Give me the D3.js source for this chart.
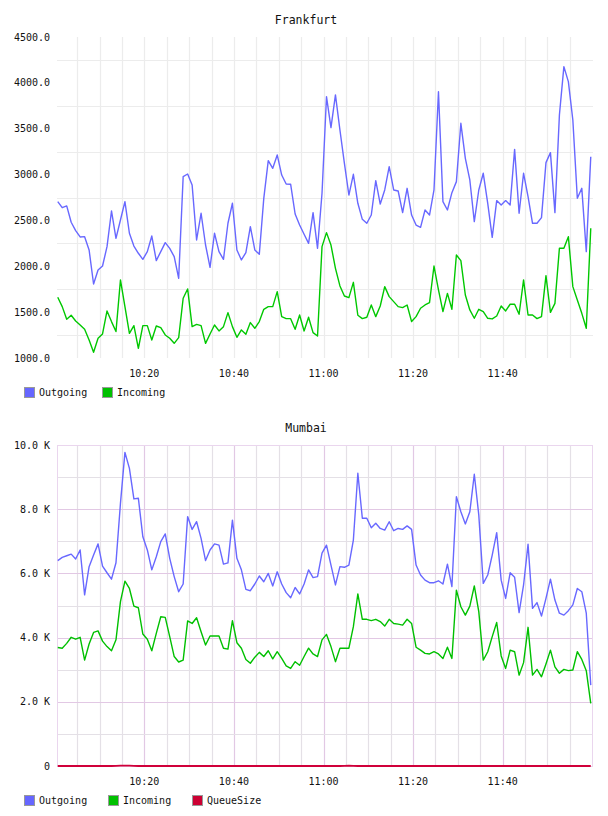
<!DOCTYPE html>
<html>
<head>
<meta charset="utf-8">
<title>Frankfurt / Mumbai</title>
<script src="https://cdn.jsdelivr.net/npm/d3@7"></script>
<style>
    body { margin: 0; background: #fff; }
    text { font-family: "DejaVu Sans Mono", monospace; font-size: 10px; fill: #111; }
    .title { font-size: 11.5px; }
</style>
</head>
<body>
<script>
// one sample per minute, starting 10:00:40
var sampleCount = 120;
var firstSample = new Date(2020, 0, 1, 10, 0, 40);
var timeDomain = [new Date(2020, 0, 1, 10, 0, 30), new Date(2020, 0, 1, 12, 0, 10)];
var timeTicks = ["10:20", "10:40", "11:00", "11:20", "11:40"];

var frankfurtOutgoing = [
    2705, 2639, 2658, 2480, 2389, 2320, 2323, 2178, 1807, 1960, 2003, 2214, 2603, 2305, 2505, 2705, 2360, 2221, 2142, 2076,
    2160, 2330, 2062, 2160, 2258, 2196, 2105, 1869, 2977, 3006, 2887, 2287, 2578, 2232, 1989, 2360, 2160, 2076, 2469, 2687,
    2178, 2069, 2149, 2432, 2178, 2131, 2741, 3152, 3068, 3214, 2995, 2897, 2894, 2570, 2450, 2349, 2250, 2585, 2196, 2796,
    3849, 3512, 3868, 3486, 3123, 2777, 3003, 2687, 2512, 2469, 2559, 2934, 2679, 2832, 3086, 2832, 2821, 2585, 2850, 2559,
    2450, 2425, 2614, 2559, 2832, 3904, 2705, 2614, 2803, 2923, 3559, 3177, 2941, 2487, 2832, 3014, 2687, 2316, 2716, 2668,
    2716, 2668, 3275, 2578, 3014, 2759, 2469, 2469, 2530, 3130, 3239, 2585, 3650, 4177, 4013, 3595, 2741, 2850, 2160, 3195
];
var frankfurtIncoming = [
    1662, 1560, 1422, 1466, 1404, 1360, 1313, 1197, 1062, 1215, 1262, 1513, 1397, 1288, 1851, 1560, 1269, 1353, 1106, 1353,
    1353, 1197, 1349, 1331, 1251, 1215, 1160, 1222, 1651, 1753, 1342, 1367, 1353, 1160, 1262, 1360, 1295, 1342, 1495, 1342,
    1226, 1306, 1259, 1386, 1324, 1397, 1531, 1560, 1560, 1724, 1451, 1429, 1429, 1313, 1469, 1295, 1444, 1277, 1240, 2214,
    2367, 2232, 1978, 1786, 1676, 1658, 1825, 1466, 1429, 1444, 1578, 1451, 1567, 1778, 1669, 1615, 1560, 1549, 1578, 1397,
    1451, 1542, 1578, 1604, 2003, 1742, 1506, 1705, 1531, 2123, 2062, 1687, 1524, 1433, 1531, 1506, 1433, 1426, 1458, 1567,
    1513, 1586, 1586, 1477, 1851, 1469, 1469, 1429, 1451, 1898, 1498, 1596, 2196, 2196, 2323, 1778, 1633, 1487, 1324, 2414
];

var mumbaiOutgoing = [
    6400, 6500, 6550, 6600, 6450, 6730, 5330, 6210, 6570, 6920, 6230, 6020, 5820, 6330, 8180, 9770, 9270, 8320, 8340, 7140,
    6730, 6110, 6520, 6990, 7230, 6470, 5900, 5430, 5670, 7770, 7370, 7610, 7090, 6400, 6730, 6920, 6880, 6290, 6330, 7660,
    6470, 6110, 5500, 5460, 5670, 5920, 5740, 6000, 5610, 6050, 5670, 5400, 5240, 5560, 5360, 5670, 6110, 5870, 5900, 6630,
    6880, 6260, 5640, 6210, 6190, 6260, 7040, 9120, 7720, 7720, 7420, 7560, 7400, 7350, 7610, 7330, 7400, 7370, 7480, 7370,
    6260, 5950, 5790, 5710, 5710, 5770, 5670, 6290, 5590, 8390, 7920, 7540, 7920, 9090, 7820, 5690, 5950, 6570, 7270, 5790,
    5220, 6020, 5880, 4780, 5640, 6910, 4910, 5090, 4670, 5220, 5820, 5170, 4760, 4700, 4840, 5020, 5530, 5430, 4760, 2520
];
var mumbaiIncoming = [
    3690, 3670, 3820, 4010, 3950, 4010, 3300, 3800, 4160, 4210, 3890, 3720, 3590, 3930, 5120, 5760, 5530, 4980, 4930, 4110,
    3950, 3590, 4130, 4650, 4630, 4030, 3410, 3240, 3300, 4520, 4440, 4620, 4180, 3770, 4050, 4050, 4050, 3670, 3640, 4530,
    3840, 3670, 3320, 3200, 3390, 3540, 3410, 3590, 3340, 3560, 3350, 3120, 3040, 3250, 3140, 3410, 3670, 3490, 3410, 3930,
    4100, 3720, 3250, 3670, 3670, 3670, 4340, 5360, 4570, 4570, 4530, 4570, 4500, 4360, 4570, 4440, 4420, 4390, 4570, 4440,
    3700, 3610, 3510, 3490, 3560, 3490, 3350, 3700, 3350, 5480, 4960, 4700, 4980, 5610, 4810, 3300, 3560, 4030, 4470, 3430,
    3040, 3610, 3560, 2830, 3220, 4320, 2830, 3010, 2780, 3180, 3610, 3090, 2890, 3010, 2970, 2990, 3560, 3320, 2970, 1950
];
var mumbaiQueue = [
    0, 0, 0, 0, 0, 0, 0, 0, 0, 0, 0, 0, 0, 5, 10, 12, 10, 5, 0, 0,
    0, 0, 0, 0, 0, 0, 0, 0, 0, 0, 0, 0, 0, 0, 0, 0, 0, 0, 0, 0,
    0, 0, 0, 0, 0, 0, 0, 0, 0, 0, 0, 0, 0, 0, 0, 0, 0, 0, 0, 0,
    0, 0, 0, 0, 5, 8, 5, 0, 0, 0, 0, 0, 0, 0, 0, 0, 0, 0, 0, 0,
    0, 0, 0, 0, 0, 0, 0, 0, 0, 0, 0, 0, 0, 0, 0, 0, 0, 0, 0, 0,
    0, 0, 0, 0, 0, 0, 0, 0, 0, 0, 0, 0, 0, 0, 0, 0, 0, 0, 0, 0
];

var times = d3.range(sampleCount).map(function (i) {
    return d3.timeMinute.offset(firstSample, i);
});
var parseTick = d3.timeParse("%H:%M");
var tickTimes = timeTicks.map(function (s) {
    var t = parseTick(s);
    return new Date(2020, 0, 1, t.getHours(), t.getMinutes());
});

var svg = d3.select("body").append("svg")
        .attr("width", 608)
        .attr("height", 816);

function drawChart(opt) {
    var x = d3.scaleTime().domain(timeDomain).range([57, 593]);
    var y = d3.scaleLinear().domain(opt.yDomain).range([opt.bottom, opt.top]);
    var g = svg.append("g");

    g.append("text")
            .attr("class", "title")
            .attr("x", 306).attr("y", opt.top - 13)
            .attr("text-anchor", "middle")
            .text(opt.title);

    // grid
    var minorTimes = d3.timeMinute.every(5).range(timeDomain[0], timeDomain[1])
            .filter(function (t) { return x(t) < 590; });
    g.selectAll(".vgrid").data(minorTimes).enter().append("line")
            .attr("x1", function (d) { return Math.round(x(d)) + 0.5; })
            .attr("x2", function (d) { return Math.round(x(d)) + 0.5; })
            .attr("y1", opt.top).attr("y2", opt.bottom)
            .attr("stroke", function (d) {
                return opt.majorColor && d.getMinutes() % 20 === 0 ? opt.majorColor : opt.gridColor;
            })
            .attr("stroke-width", 1.2);
    g.selectAll(".hgrid").data(opt.gridValues).enter().append("line")
            .attr("x1", 57).attr("x2", 593)
            .attr("y1", function (d) { return Math.round(y(d)) + 0.5; })
            .attr("y2", function (d) { return Math.round(y(d)) + 0.5; })
            .attr("stroke", function (d) {
                return opt.majorColor && d % 2000 === 0 ? opt.majorColor : opt.gridColor;
            })
            .attr("stroke-width", 1.2);

    if (opt.border) {
        g.append("rect")
                .attr("x", 57.5).attr("y", opt.top + 0.5)
                .attr("width", 535).attr("height", opt.bottom - opt.top)
                .attr("fill", "none")
                .attr("stroke", opt.border);
    }

    // axes labels
    g.selectAll(".ylab").data(opt.yTicks).enter().append("text")
            .attr("x", 50).attr("y", function (d) { return y(d) + 3.5; })
            .attr("text-anchor", "end")
            .text(opt.yFormat);
    g.selectAll(".xlab").data(tickTimes).enter().append("text")
            .attr("x", function (d) { return x(d); })
            .attr("y", opt.bottom + 19)
            .attr("text-anchor", "middle")
            .text(d3.timeFormat("%H:%M"));

    var line = d3.line()
            .x(function (d, i) { return x(times[i]); })
            .y(function (d) { return y(d); });

    opt.series.forEach(function (s) {
        g.append("path")
                .datum(s.values)
                .attr("d", line)
                .attr("fill", "none")
                .attr("stroke", s.color)
                .attr("stroke-width", s.width || 1.4)
                .attr("stroke-linejoin", "round");
    });

    // legend
    var lx = 24;
    opt.series.forEach(function (s) {
        g.append("rect")
                .attr("x", lx + 0.5).attr("y", opt.bottom + 29.5)
                .attr("width", 10).attr("height", 10)
                .attr("fill", s.swatch)
                .attr("stroke", "#999");
        g.append("text")
                .attr("x", lx + 15).attr("y", opt.bottom + 38)
                .text(s.name);
        lx += s.step;
    });
}

drawChart({
    title: "Frankfurt",
    top: 37, bottom: 358,
    yDomain: [1000, 4500],
    yTicks: [1000, 1500, 2000, 2500, 3000, 3500, 4000, 4500],
    gridValues: [1250, 1750, 2250, 2750, 3250, 3750, 4250],
    yFormat: d3.format(".1f"),
    gridColor: "#ececec",
    series: [
        { name: "Outgoing", values: frankfurtOutgoing, color: "#6868ff", swatch: "#6666ff", step: 78 },
        { name: "Incoming", values: frankfurtIncoming, color: "#00c800", swatch: "#00c000", step: 84 }
    ]
});

drawChart({
    title: "Mumbai",
    top: 445, bottom: 766,
    yDomain: [0, 10000],
    yTicks: [0, 2000, 4000, 6000, 8000, 10000],
    gridValues: [1000, 2000, 3000, 4000, 5000, 6000, 7000, 8000, 9000],
    yFormat: function (d) { return d === 0 ? "0" : (d / 1000).toFixed(1) + " K"; },
    gridColor: "#e4e0e6",
    majorColor: "#e2c8e4",
    border: "#ead6ee",
    series: [
        { name: "Outgoing", values: mumbaiOutgoing, color: "#6868ff", swatch: "#6666ff", step: 84 },
        { name: "Incoming", values: mumbaiIncoming, color: "#00c000", swatch: "#00c000", step: 84 },
        { name: "QueueSize", values: mumbaiQueue, color: "#d0003a", swatch: "#cc0033", step: 84, width: 1.8 }
    ]
});
</script>
</body>
</html>
